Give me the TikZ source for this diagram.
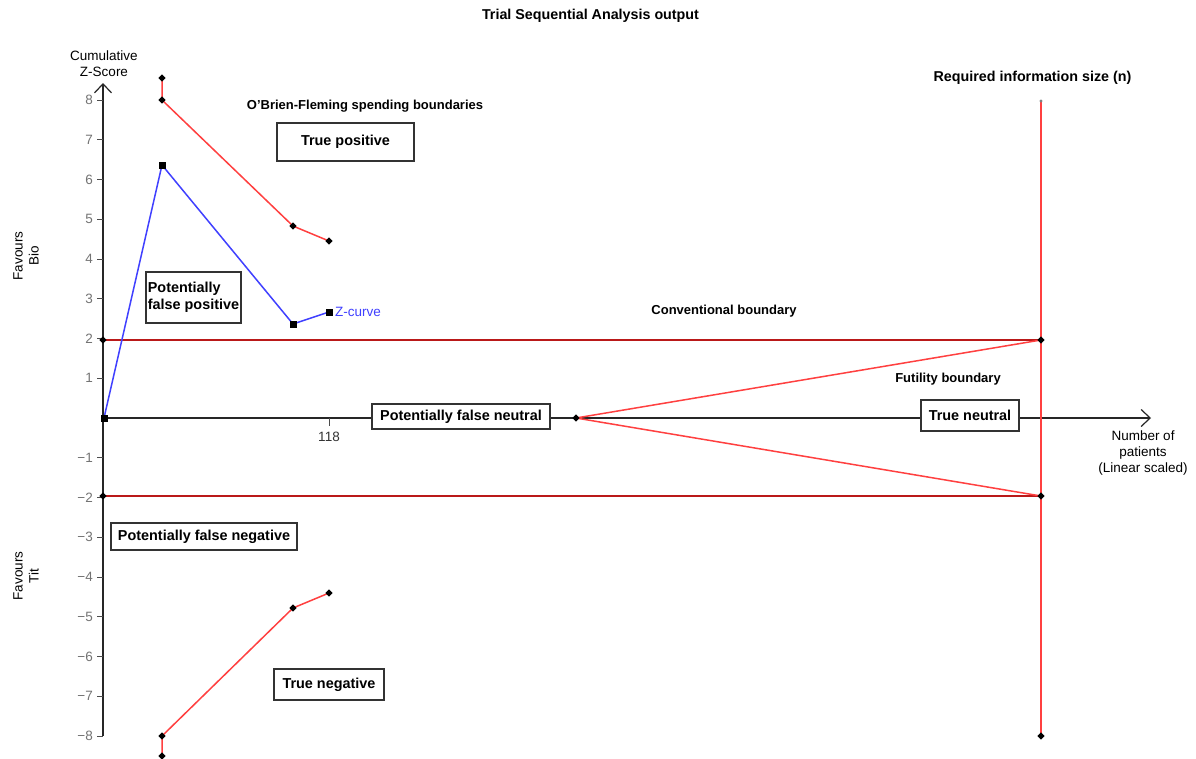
\documentclass[tikz,border=0pt]{standalone}
\usepackage{fontspec}
\setmainfont{Liberation Sans}
\usetikzlibrary{arrows.meta,shapes.geometric,backgrounds}
\begin{document}
\begin{tikzpicture}[x=1pt,y=-1pt,
  lbl/.style={font=\fontsize{13.5}{16}\selectfont, align=center, inner sep=0pt},
  bld/.style={font=\fontsize{13}{15}\selectfont\bfseries, inner sep=0pt},
  bigbld/.style={font=\fontsize{14.3}{16}\selectfont\bfseries, inner sep=0pt},
  boxlbl/.style={draw=black!80, line width=1.3pt, font=\fontsize{14.4}{17}\selectfont\bfseries, inner sep=0pt, align=center},
  ticklbl/.style={font=\fontsize{13.5}{15}\selectfont, text=black!55, anchor=east, inner sep=0pt},
  tk/.style={draw=black!70, line width=1pt},
  axis/.style={draw=black!85, line width=1.2pt},
  rl/.style={draw=red!75, line width=1.5pt},
  cl/.style={draw=red!70!black!90, line width=1.1pt},
  bl/.style={draw=blue!75, line width=1.5pt},
  dia/.style={shape=diamond, fill=black, inner sep=0pt, minimum size=7.5pt},
  sq/.style={shape=rectangle, fill=black, inner sep=0pt, minimum size=7pt},
  barb/.style={-{Straight Barb[length=9pt,width=17pt,line width=1.2pt]}}]
\useasboundingbox (0,0) rectangle (1196,758);

% title and axis labels
\node[bigbld] (title) at (590.5,16) {Trial Sequential Analysis output};
\node[lbl] (ylab) at (104,64) {Cumulative\\Z-Score};
\node[lbl, rotate=90] (fbio) at (26,256) {Favours\\Bio};
\node[lbl, rotate=90] (ftit) at (26,576) {Favours\\Tit};
\node[lbl] (xlab) at (1143,453) {Number of\\patients\\(Linear scaled)};

% markers
\node[dia] (c1) at (103,340) {};
\node[dia] (c2) at (1041,340) {};
\node[dia] (c3) at (103,496) {};
\node[dia] (c4) at (1041,496) {};
\node[shape=diamond, fill=black!50, inner sep=0pt, minimum size=3.5pt] (r0) at (1041,101) {};
\node[dia] (r1) at (1041,736) {};
\node[dia] (f0) at (576,418) {};
\node[dia] (u0) at (162,78) {};
\node[dia] (u1) at (162,100) {};
\node[dia] (u2) at (293,226) {};
\node[dia] (u3) at (329,241) {};
\node[dia] (l0) at (162,756) {};
\node[dia] (l1) at (162,736) {};
\node[dia] (l2) at (293,608) {};
\node[dia] (l3) at (329,593) {};
\node[sq] (z0) at (104,418) {};
\node[sq] (z1) at (162,165) {};
\node[sq] (z2) at (293,324) {};
\node[sq] (z3) at (329,312) {};
\node[lbl, anchor=west, text=blue!75] (zlab) at (335,312) {Z-curve};

% bold labels
\node[bld] (obf) at (365,106) {O’Brien-Fleming spending boundaries};
\node[bld] (conv) at (724,311) {Conventional boundary};
\node[bld] (fut) at (948,379) {Futility boundary};
\node[bigbld] (ris) at (1032.5,78) {Required information size (n)};

% region boxes
\node[boxlbl, fill=white, minimum width=137pt, minimum height=38pt] (tp) at (345.5,142) {True positive};
\node[boxlbl, fill=white, minimum width=95pt, minimum height=51pt, align=left] (pfp) at (193.5,297.5) {Potentially\\false positive};
\node[boxlbl, fill=white, minimum width=178pt, minimum height=25pt] (pfn) at (461,416.5) {Potentially false neutral};
\node[boxlbl, fill=white, minimum width=98pt, minimum height=31pt] (tn) at (970,415.5) {True neutral};
\node[boxlbl, fill=white, minimum width=186pt, minimum height=27pt] (pfneg) at (204,536.5) {Potentially false negative};
\node[boxlbl, fill=white, minimum width=110pt, minimum height=31pt] (tneg) at (329,684.5) {True negative};

\begin{scope}[on background layer]
\fill[white] (0,0) rectangle (1196,758);
% axes
\coordinate (ybot) at (103,736);
\coordinate (ytop) at (103,83);
\coordinate (xl) at (103,418);
\coordinate (xr) at (1151,418);
\draw[axis] (ybot) -- (xl);
\draw[axis,barb] (xl) -- (ytop);
\draw[axis,barb] (xl) -- (xr);
% ticks
\foreach \z in {1,...,8}{
  \draw[tk] (97,{418-39.75*\z}) -- (103,{418-39.75*\z});
  \node[ticklbl] at (93,{418-39.75*\z}) {\z};
  \draw[tk] (97,{418+39.75*\z}) -- (103,{418+39.75*\z});
  \node[ticklbl] at (93,{418+39.75*\z}) {−\z};
}
\draw[tk] (329,418) -- (329,426);
\node[lbl, font=\fontsize{13.5}{15}\selectfont, text=black!80] (t118) at (329,437) {118};
% conventional boundaries
\draw[cl] (c1.center) -- (c2.center);
\draw[cl] (c3.center) -- (c4.center);
% required information size
\draw[rl] (r0.center) -- (r1.center);
% futility
\draw[rl] (f0.center) -- (c2.center);
\draw[rl] (f0.center) -- (c4.center);
% O'Brien-Fleming
\draw[rl] (u0.center) -- (u1.center) -- (u2.center) -- (u3.center);
\draw[rl] (l0.center) -- (l1.center) -- (l2.center) -- (l3.center);
% Z-curve
\draw[bl] (z0.center) -- (z1.center) -- (z2.center) -- (z3.center);
\end{scope}
\end{tikzpicture}
\end{document}
